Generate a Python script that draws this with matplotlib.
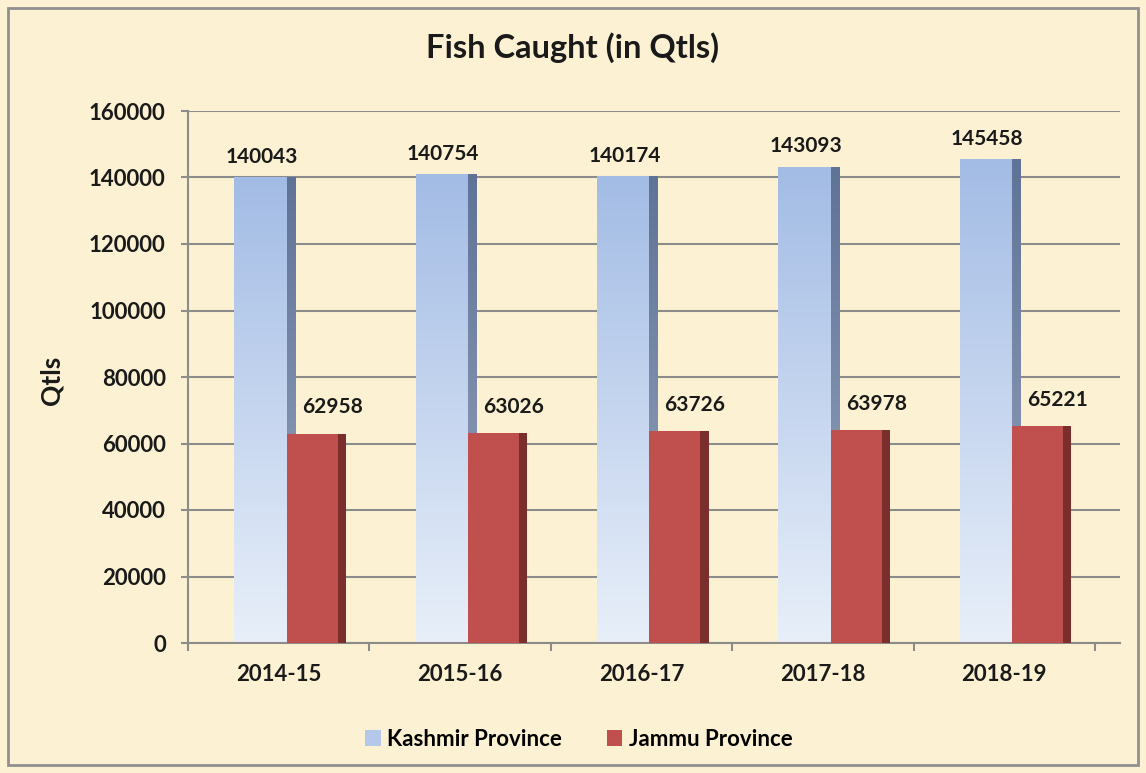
import numpy as np
import matplotlib.pyplot as plt
from matplotlib.colors import LinearSegmentedColormap
from matplotlib.patches import Rectangle, Patch

plt.rcParams['font.family'] = ['Lato', 'DejaVu Sans']
plt.rcParams['font.weight'] = 'bold'

years = ['2014-15', '2015-16', '2016-17', '2017-18', '2018-19']
kashmir = [140043, 140754, 140174, 143093, 145458]
jammu = [62958, 63026, 63726, 63978, 65221]

bg = '#fcf2d3'
grid_c = '#8c8c8c'
txt = '#1a1a1a'

fig = plt.figure(figsize=(11.46, 7.73), dpi=100, facecolor=bg)
ax = fig.add_axes([188/1146, 1 - 643/773, 932/1146, 532/773], facecolor=bg)

# frame around whole figure
fig.patches.append(Rectangle((8/1146, 8/773), 1 - 16/1146, 1 - 16/773, transform=fig.transFigure,
                             fill=False, edgecolor='#909090', linewidth=2))

# gradients (light at bottom, darker at top)
k_front = LinearSegmentedColormap.from_list('kf', ['#e8eff9', '#a3bce5'])
k_side = LinearSegmentedColormap.from_list('ks', ['#9aa9c2', '#5f7396'])
grad = np.linspace(0, 1, 256).reshape(-1, 1)

bw = 0.289      # front width
sw = 0.045      # side strip width
k0 = -0.245     # kashmir left offset
j0 = k0 + bw    # jammu left offset

for i in range(len(years)):
    kx = i + k0
    ax.imshow(grad, extent=[kx, kx + bw, 0, kashmir[i]], origin='lower', aspect='auto',
              cmap=k_front, zorder=2)
    ax.imshow(grad, extent=[kx + bw, kx + bw + sw, 0, kashmir[i]], origin='lower', aspect='auto',
              cmap=k_side, zorder=2)
    jx = i + j0
    ax.bar(jx, jammu[i], width=bw - 0.008, align='edge', color='#c0504d', zorder=3, linewidth=0)
    ax.bar(jx + bw - 0.008, jammu[i], width=sw, align='edge', color='#7b2f2d', zorder=3, linewidth=0)

    ax.annotate(str(kashmir[i]), (kx + (bw + sw) / 2, kashmir[i]), xytext=(-2, 15),
                textcoords='offset points', ha='center', va='center', fontsize=15,
                fontweight='bold', color=txt)
    ax.annotate(str(jammu[i]), (jx + (bw + sw) / 2, jammu[i]), xytext=(11, 19),
                textcoords='offset points', ha='center', va='center', fontsize=15,
                fontweight='bold', color=txt)

# floor/gridlines run a little past the last category (3D depth)
ax.set_xlim(-0.5, len(years) - 0.5 + 25/181.4)
ax.set_ylim(0, 160000)
ax.set_yticks(np.arange(0, 160001, 20000))
ax.yaxis.grid(True, color=grid_c, linewidth=1.5)
ax.set_axisbelow(True)

ax.set_xticks(range(len(years)))
ax.set_xticklabels(years)
ax.set_xticks(np.arange(-0.5, len(years), 1), minor=True)
ax.tick_params(axis='x', which='major', length=0, pad=15, labelsize=16)
ax.tick_params(axis='x', which='minor', length=6, width=1.5, color=grid_c, direction='out')
ax.tick_params(axis='y', length=5, width=1.5, color=grid_c, pad=11, labelsize=16)
for lab in ax.get_xticklabels() + ax.get_yticklabels():
    lab.set_fontweight('bold')
    lab.set_color(txt)

for s in ['top', 'right']:
    ax.spines[s].set_visible(False)
for s in ['left', 'bottom']:
    ax.spines[s].set_color(grid_c)
    ax.spines[s].set_linewidth(1.5)

ax.set_ylabel('Qtls', fontsize=19, fontweight='bold', color=txt)
ax.yaxis.set_label_coords(-125/932, 0.494)

fig.text(0.5, 1 - 48/773, 'Fish Caught (in Qtls)', ha='center', va='center',
         fontsize=23.5, fontweight='bold', color=txt)

handles = [Patch(facecolor='#b3c8ea', label='Kashmir Province'),
           Patch(facecolor='#c0504d', label='Jammu Province')]
fig.legend(handles=handles, loc='center', bbox_to_anchor=(0.505, 1 - 739/773), ncol=2,
           frameon=False, fontsize=16, handlelength=0.7, handleheight=0.7,
           handletextpad=0.3, columnspacing=2.0)

fig.savefig('out.png', dpi=100, facecolor=bg)
